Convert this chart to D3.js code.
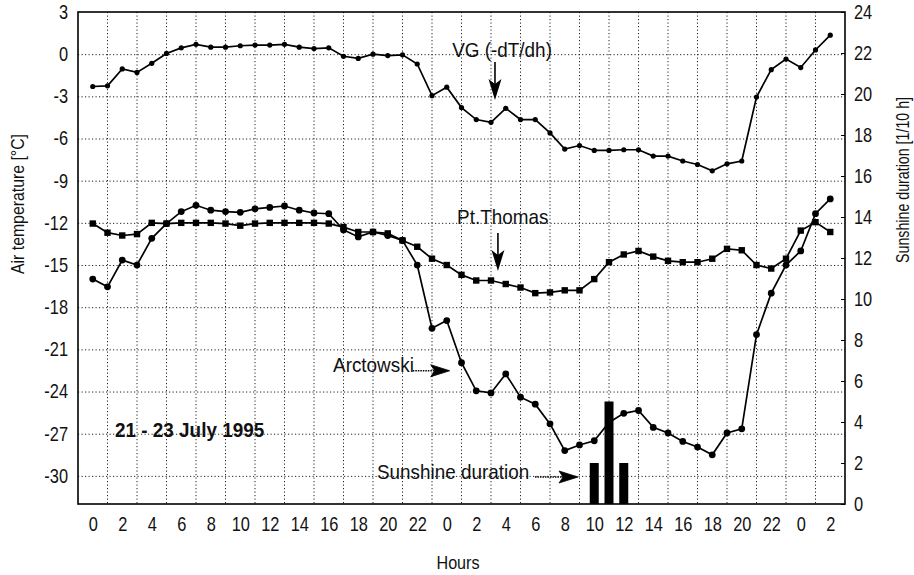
<!DOCTYPE html>
<html>
<head>
<meta charset="utf-8">
<script src="https://cdn.jsdelivr.net/npm/d3@7"></script>
<style>
  body { margin: 0; background: #fff; }
  svg text { font-family: "Liberation Sans", Arial, sans-serif; fill: #111; }
</style>
</head>
<body>
<svg id="chart" width="914" height="575"></svg>
<script>
// hour of day for every tick label, 21 - 23 July 1995
var hourLabels = [0, 2, 4, 6, 8, 10, 12, 14, 16, 18, 20, 22,
                  0, 2, 4, 6, 8, 10, 12, 14, 16, 18, 20, 22, 0, 2];
var tempTicks = [3, 0, -3, -6, -9, -12, -15, -18, -21, -24, -27, -30];
var sunTicks = [0, 2, 4, 6, 8, 10, 12, 14, 16, 18, 20, 22, 24];

// hourly values, hour 0 of 21 July to hour 2 of 23 July
var vgValues = [-2.3, -2.25, -1.05, -1.3, -0.65, 0.05, 0.45, 0.7, 0.5, 0.5, 0.6, 0.65, 0.65, 0.7, 0.5, 0.4,
  0.45, -0.15, -0.3, 0.0, -0.1, -0.05, -0.7, -2.95, -2.35, -3.8, -4.65, -4.85, -3.85, -4.65, -4.65, -5.6,
  -6.75, -6.5, -6.85, -6.85, -6.8, -6.8, -7.25, -7.25, -7.6, -7.85, -8.3, -7.8, -7.6, -3.05, -1.1, -0.35,
  -0.95, 0.3, 1.35];

var arctowski = [-16.0, -16.55, -14.65, -15.0, -13.1, -12.05, -11.2, -10.75, -11.1, -11.2, -11.25, -11.0,
  -10.9, -10.8, -11.1, -11.3, -11.35, -12.5, -13.0, -12.65, -12.9, -13.25, -15.0, -19.5, -18.95, -21.95,
  -23.95, -24.1, -22.75, -24.4, -24.9, -26.3, -28.2, -27.8, -27.5, -26.2, -25.55, -25.35, -26.55, -26.95,
  -27.55, -27.95, -28.5, -26.95, -26.65, -19.95, -17.0, -15.0, -14.0, -11.35, -10.3];

var ptThomas = [-12.05, -12.7, -12.9, -12.8, -12.0, -12.05, -12.0, -12.0, -12.0, -12.05, -12.2, -12.05,
  -12.0, -12.0, -12.0, -12.0, -12.05, -12.3, -12.65, -12.65, -12.75, -13.25, -13.7, -14.55, -15.0, -15.7,
  -16.1, -16.1, -16.35, -16.6, -17.0, -16.95, -16.8, -16.8, -16.0, -14.8, -14.25, -14.0, -14.4, -14.7,
  -14.8, -14.8, -14.55, -13.85, -13.95, -15.0, -15.25, -14.55, -12.55, -11.95, -12.65];

// sunshine duration in 1/10 h
var sunshine = [0, 0, 0, 0, 0, 0, 0, 0, 0, 0, 0, 0, 0, 0, 0, 0, 0, 0, 0, 0, 0, 0, 0, 0,
  0, 0, 0, 0, 0, 0, 0, 0, 0, 0, 2, 5, 2, 0, 0, 0, 0, 0, 0, 0, 0, 0, 0, 0, 0, 0, 0];

var plot = { left: 78, right: 845, top: 12, bottom: 504 };

var svg = d3.select("#chart");

var x = d3.scaleLinear().domain([-1, 51]).range([plot.left, plot.right]);
var yT = d3.scaleLinear().domain([-32, 3]).range([plot.bottom, plot.top]);
var yS = d3.scaleLinear().domain([0, 24]).range([plot.bottom, plot.top]);

// the original uses a condensed face, squeeze text around its anchor
var squeeze = function(sel, k) {
  sel.each(function() {
    var t = d3.select(this);
    var x0 = +t.attr("x") || 0;
    t.attr("transform", "translate(" + (x0 * (1 - k)) + ",0) scale(" + k + ",1)");
  });
};

// dotted grid: every 3 deg and every odd hour
var grid = svg.append("g").attr("stroke", "#222").attr("stroke-width", 1)
  .attr("stroke-dasharray", "1.2,2.3");
grid.selectAll(".hg").data(tempTicks.slice(1)).enter().append("line")
  .attr("x1", plot.left).attr("x2", plot.right)
  .attr("y1", function(d) { return yT(d) + 0.5; })
  .attr("y2", function(d) { return yT(d) + 0.5; });
grid.selectAll(".vg").data(d3.range(1, 51, 2)).enter().append("line")
  .attr("y1", plot.top).attr("y2", plot.bottom)
  .attr("x1", function(d) { return x(d); })
  .attr("x2", function(d) { return x(d); });

// sunshine bars
svg.append("g").selectAll("rect").data(sunshine).enter().append("rect")
  .attr("x", function(d, i) { return x(i) - 4.5; })
  .attr("width", 9)
  .attr("y", function(d) { return yS(d); })
  .attr("height", function(d) { return yS(0) - yS(d); })
  .attr("fill", "#000");

// frame
svg.append("rect")
  .attr("x", plot.left).attr("y", plot.top)
  .attr("width", plot.right - plot.left).attr("height", plot.bottom - plot.top)
  .attr("fill", "none").attr("stroke", "#000").attr("stroke-width", 1.6);

// axes
var leftAxis = d3.axisLeft(yT).tickValues(tempTicks).tickSize(0).tickPadding(10)
  .tickFormat(function(d) { return String(d); });
var gl = svg.append("g").attr("transform", "translate(" + plot.left + ",0)").call(leftAxis);

var rightAxis = d3.axisRight(yS).tickValues(sunTicks).tickSize(-4).tickPadding(9)
  .tickFormat(function(d) { return String(d); });
var gr = svg.append("g").attr("transform", "translate(" + plot.right + ",0)").call(rightAxis);

var bottomAxis = d3.axisBottom(x).tickValues(d3.range(0, 51, 2)).tickSize(0).tickPadding(13)
  .tickFormat(function(d, i) { return String(hourLabels[i]); });
var gb = svg.append("g").attr("transform", "translate(0," + plot.bottom + ")").call(bottomAxis);

[gl, gr, gb].forEach(function(g) {
  g.select(".domain").remove();
  g.attr("font-family", null).attr("font-size", null);
  g.selectAll("text").attr("font-size", 20).attr("fill", "#111");
  g.selectAll(".tick line").attr("stroke", "#000");
  squeeze(g.selectAll("text"), 0.82);
});

// series
var lineT = d3.line().x(function(d, i) { return x(i); }).y(function(d) { return yT(d); });

[vgValues, arctowski, ptThomas].forEach(function(s) {
  svg.append("path").datum(s).attr("d", lineT)
    .attr("fill", "none").attr("stroke", "#000").attr("stroke-width", 1.7);
});

svg.append("g").selectAll("circle").data(vgValues).enter().append("circle")
  .attr("cx", function(d, i) { return x(i); })
  .attr("cy", function(d) { return yT(d); })
  .attr("r", 2.6).attr("fill", "#000");

svg.append("g").selectAll("circle").data(arctowski).enter().append("circle")
  .attr("cx", function(d, i) { return x(i); })
  .attr("cy", function(d) { return yT(d); })
  .attr("r", 3.4).attr("fill", "#000");

svg.append("g").selectAll("rect").data(ptThomas).enter().append("rect")
  .attr("x", function(d, i) { return x(i) - 3.2; })
  .attr("y", function(d) { return yT(d) - 3.2; })
  .attr("width", 6.4).attr("height", 6.4).attr("fill", "#000");

// axis titles
svg.append("text")
  .attr("transform", "translate(24,204) rotate(-90) scale(0.88,1)")
  .attr("text-anchor", "middle").attr("font-size", 18)
  .text("Air temperature [°C]");

svg.append("text")
  .attr("transform", "translate(909,180) rotate(-90) scale(0.79,1)")
  .attr("text-anchor", "middle").attr("font-size", 18)
  .text("Sunshine duration [1/10 h]");

svg.append("text")
  .attr("transform", "translate(458,569) scale(0.85,1)")
  .attr("text-anchor", "middle").attr("font-size", 19)
  .text("Hours");

// annotations (hour, temperature)
var ann = svg.append("g");

var downArrow = function(h, t0, t1) {
  var ax = x(h), a = yT(t0), b = yT(t1);
  ann.append("line").attr("x1", ax).attr("x2", ax).attr("y1", a).attr("y2", b - 10)
    .attr("stroke", "#000").attr("stroke-width", 1.6);
  ann.append("polygon")
    .attr("points", [[ax, b], [ax - 6.5, b - 21], [ax, b - 16], [ax + 6.5, b - 21]].join(" "))
    .attr("fill", "#000");
};

var rightArrow = function(h0, h1, t) {
  var a = x(h0), b = x(h1), ay = yT(t);
  ann.append("line").attr("x1", a).attr("x2", b - 12).attr("y1", ay).attr("y2", ay)
    .attr("stroke", "#000").attr("stroke-width", 1.6).attr("stroke-dasharray", "1.5,1");
  ann.append("polygon")
    .attr("points", [[b, ay], [b - 19, ay - 6], [b - 15, ay], [b - 19, ay + 6]].join(" "))
    .attr("fill", "#000").attr("stroke", "#000").attr("stroke-width", 0.8);
};

var label = function(h, t, s, size, anchor, k) {
  var el = ann.append("text").attr("x", x(h)).attr("y", yT(t)).attr("dy", "0.35em")
    .attr("text-anchor", anchor).attr("font-size", size).text(s);
  squeeze(el, k);
  return el;
};

label(27.75, 0.3, "VG (-dT/dh)", 21, "middle", 0.9);
downArrow(27.27, -0.56, -3.26);

label(27.8, -11.58, "Pt.Thomas", 21, "middle", 0.9);
downArrow(27.47, -12.72, -15.42);

label(16.29, -22.1, "Arctowski", 21, "start", 0.9);
rightArrow(21.7, 24.2, -22.52);

label(19.27, -29.72, "Sunshine duration", 21, "start", 0.9);
rightArrow(29.98, 32.9, -30.08);

label(1.51, -26.74, "21 - 23 July 1995", 21, "start", 0.9).attr("font-weight", "bold");
</script>
</body>
</html>
